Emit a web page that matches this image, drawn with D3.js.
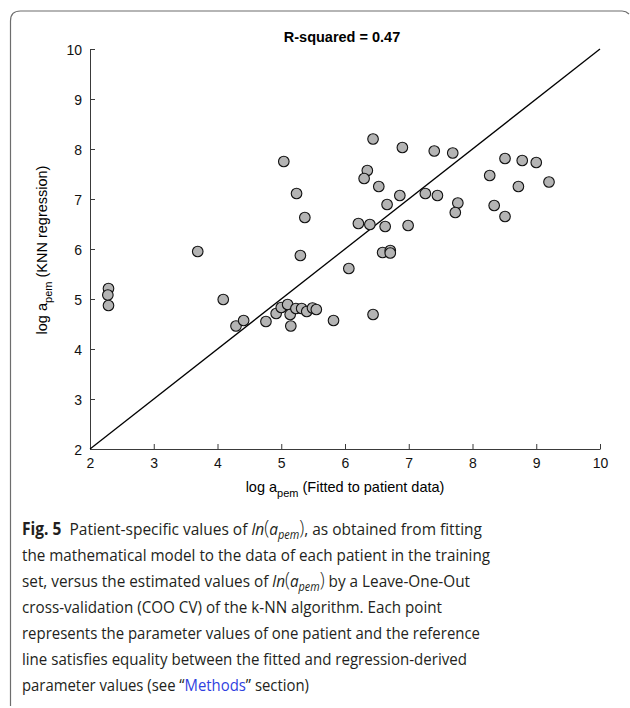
<!doctype html>
<head>
  <title>Fig5 knn</title>
</head>
<style>
  body { margin: 0; background: #fff; }
  svg text { font-family: "Liberation Sans", Arial, sans-serif; }
  .cap { font-family: "Open Sans", "Noto Sans", sans-serif; fill: #231f20; }
</style>
<body>
  <script src="https://d3js.org/d3.v7.min.js"></script>
  <svg id="chart" width="630" height="708"></svg>
  <script>

  // fitted values (x) and KNN regression values (y)
  const fitted = [5.04, 5.24, 5.37, 6.21, 3.69, 6.44, 6.90, 7.40, 7.69, 6.35,
                  6.30, 6.53, 6.86, 6.66, 7.26, 7.45, 7.77, 7.73, 8.27, 8.51,
                  8.78, 9.00, 8.72, 9.20, 8.34, 8.51, 6.39, 6.63, 6.99, 6.59,
                  6.71, 6.71, 6.06, 6.44, 5.30, 2.29, 2.28, 2.29, 4.09, 4.29,
                  4.41, 4.76, 4.92, 5.00, 5.10, 5.14, 5.15, 5.23, 5.32, 5.40,
                  5.49, 5.55, 5.82];
  const knn    = [7.75, 7.11, 6.63, 6.51, 5.95, 8.20, 8.03, 7.96, 7.92, 7.57,
                  7.41, 7.25, 7.07, 6.89, 7.11, 7.07, 6.92, 6.73, 7.47, 7.81,
                  7.77, 7.73, 7.25, 7.34, 6.87, 6.65, 6.49, 6.45, 6.47, 5.93,
                  5.97, 5.92, 5.61, 4.69, 5.87, 5.21, 5.08, 4.87, 4.99, 4.46,
                  4.57, 4.55, 4.71, 4.83, 4.89, 4.69, 4.46, 4.81, 4.81, 4.75,
                  4.82, 4.79, 4.57];
  const ticks = [2, 3, 4, 5, 6, 7, 8, 9, 10];
  const rsq = 0.47;

  let svg = d3.select("#chart");

  // frame round the figure + caption
  svg.append("path")
    .attr("d", "M10.5,706 Q10.5,702 10.5,698 L10.5,21 Q10.5,11 20.5,11 L622,11 Q626,11 629,14")
    .attr("fill", "none")
    .attr("stroke", "#6d6d6d")
    .attr("stroke-width", 1.2);

  let x = d3.scaleLinear().domain([2, 10]).range([90, 600]);
  let y = d3.scaleLinear().domain([2, 10]).range([449, 49]);

  let xAxis = svg.append("g")
    .attr("transform", "translate(0,449)")
    .call(d3.axisBottom(x).tickValues(ticks).tickSizeInner(-5).tickSizeOuter(0).tickPadding(9));
  let yAxis = svg.append("g")
    .attr("transform", "translate(90,0)")
    .call(d3.axisLeft(y).tickValues(ticks).tickSizeInner(-5).tickSizeOuter(0).tickPadding(8));

  [xAxis, yAxis].forEach(a => {
    a.selectAll("path, line").attr("stroke", "#3a3a3a");
    a.selectAll("text").attr("font-size", 14).attr("fill", "#111")
      .style("font-family", "Liberation Sans, Arial, sans-serif");
  });
  yAxis.selectAll("text").attr("dy", "0.36em");

  // reference line y = x
  svg.append("line")
    .attr("x1", x(2)).attr("y1", y(2))
    .attr("x2", x(10)).attr("y2", y(10))
    .attr("stroke", "#000")
    .attr("stroke-width", 1.3);

  svg.append("g")
    .selectAll("circle")
    .data(fitted.map((d, i) => [d, knn[i]]))
    .enter()
    .append("circle")
    .attr("cx", d => x(d[0]))
    .attr("cy", d => y(d[1]))
    .attr("r", 5.3)
    .attr("fill", "#b4b4b4")
    .attr("stroke", "#111")
    .attr("stroke-width", 1.1);

  // title
  svg.append("text")
    .attr("x", 342).attr("y", 42)
    .attr("text-anchor", "middle")
    .attr("font-size", 14.5)
    .attr("font-weight", "bold")
    .text("R-squared = " + rsq);

  // x label
  let xl = svg.append("text")
    .attr("x", 345).attr("y", 492)
    .attr("text-anchor", "middle")
    .attr("font-size", 14.5);
  xl.append("tspan").text("log a");
  xl.append("tspan").attr("dy", 5).attr("font-size", 11).text("pem");
  xl.append("tspan").attr("dy", -5).text(" (Fitted to patient data)");

  // y label
  let yl = svg.append("text")
    .attr("transform", "translate(47,250) rotate(-90)")
    .attr("text-anchor", "middle")
    .attr("font-size", 14.5);
  yl.append("tspan").text("log a");
  yl.append("tspan").attr("dy", 5).attr("font-size", 11).text("pem");
  yl.append("tspan").attr("dy", -5).text(" (KNN regression)");

  // caption
  const capLines = [
    [["b", "Fig. 5"], ["g", "Patient-specific values of "], ["ln"], ["n", ", as obtained from fitting"]],
    [["n", "the mathematical model to the data of each patient in the training"]],
    [["n", "set, versus the estimated values of "], ["ln"], ["n", " by a Leave-One-Out"]],
    [["n", "cross-validation (COO CV) of the k-NN algorithm. Each point"]],
    [["n", "represents the parameter values of one patient and the reference"]],
    [["n", "line satisfies equality between the fitted and regression-derived"]],
    [["n", "parameter values (see \u201c"], ["l", "Methods"], ["n", "\u201d section)"]]
  ];
  const capWidths = [460, 468, 448, 420, 458, 445, 287];

  capLines.forEach((line, i) => {
    let t = svg.append("text")
      .attr("class", "cap")
      .attr("x", 22)
      .attr("y", 535 + i * 26)
      .attr("font-size", 17)
      .attr("textLength", capWidths[i])
      .attr("lengthAdjust", "spacingAndGlyphs");
    line.forEach(seg => {
      if (seg[0] === "b") t.append("tspan").attr("font-weight", "bold").text(seg[1]);
      else if (seg[0] === "g") t.append("tspan").attr("dx", 9).text(seg[1]);
      else if (seg[0] === "l") t.append("tspan").attr("fill", "#2f3fe0").text(seg[1]);
      else if (seg[0] === "ln") {
        t.append("tspan").attr("font-style", "italic").text("ln");
        t.append("tspan").attr("font-size", 20).attr("font-weight", 300).text("(");
        t.append("tspan").attr("font-style", "italic").text("a");
        t.append("tspan").attr("font-style", "italic").attr("font-size", 12).attr("dy", 4).text("pem");
        t.append("tspan").attr("font-size", 20).attr("font-weight", 300).attr("dy", -4).text(")");
      }
      else t.append("tspan").text(seg[1]);
    });
  });

  </script>
</body>
